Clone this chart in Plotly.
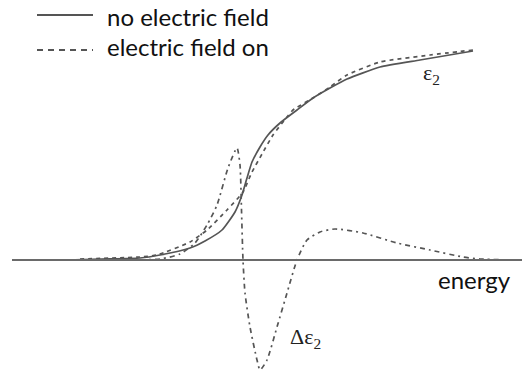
import plotly.graph_objects as go

# Imaginary dielectric function eps2 without / with an applied field,
# and the field-induced change (arbitrary units)
energy_off = [0.67, 1.00, 1.40, 1.60, 1.90, 2.05, 2.22, 2.35, 2.42, 2.47, 2.52,
              2.60, 2.68, 2.80, 2.97, 3.13, 3.30, 3.47, 3.80, 4.20, 4.73]
eps2_off = [0.00, 0.01, 0.02, 0.05, 0.12, 0.19, 0.30, 0.48, 0.65, 0.82, 0.98,
            1.13, 1.25, 1.37, 1.50, 1.62, 1.72, 1.81, 1.93, 2.00, 2.09]

energy_on = [0.80, 1.40, 1.57, 1.90, 2.07, 2.27, 2.43, 2.52, 2.62, 2.73, 2.87,
             2.93, 3.13, 3.30, 3.47, 3.80, 4.30, 4.73]
eps2_on = [0.01, 0.03, 0.05, 0.18, 0.30, 0.50, 0.68, 0.88, 1.06, 1.25, 1.43,
           1.50, 1.62, 1.73, 1.85, 1.98, 2.05, 2.10]

energy_diff = [1.10, 1.60, 1.80, 1.95, 2.07, 2.17, 2.28, 2.37, 2.40, 2.415, 2.43,
               2.45, 2.50, 2.57, 2.60, 2.67, 2.77, 2.87, 2.97, 3.07, 3.20, 3.35,
               3.63, 3.97, 4.30, 4.63, 4.80, 5.13]
delta_eps2 = [0.00, 0.01, 0.06, 0.17, 0.35, 0.55, 0.92, 1.12, 0.95, 0.50, 0.00,
              -0.33, -0.67, -1.00, -1.10, -1.00, -0.67, -0.33, 0.00, 0.20, 0.28, 0.31,
              0.27, 0.17, 0.10, 0.03, 0.01, 0.00]

legend_labels = ["no electric field", "electric field on"]

ink = "#555555"
fig = go.Figure()

fig.add_trace(go.Scatter(x=energy_off, y=eps2_off, mode="lines",
                         line=dict(color=ink, width=1.7, shape="spline", smoothing=0.5)))
fig.add_trace(go.Scatter(x=energy_on, y=eps2_on, mode="lines",
                         line=dict(color=ink, width=1.7, dash="4px,4px",
                                   shape="spline", smoothing=0.5)))
fig.add_trace(go.Scatter(x=energy_diff, y=delta_eps2, mode="lines",
                         line=dict(color=ink, width=1.7, dash="5px,4px,2px,4px",
                                   shape="spline", smoothing=0.6)))

# energy axis
fig.add_shape(type="line", xref="x", yref="y", x0=0.12, x1=5.22, y0=0, y1=0,
              line=dict(color="#6a6a6a", width=2.2))

# legend drawn by hand
fig.add_shape(type="line", xref="paper", yref="paper",
              x0=37/532, x1=93/532, y0=1-15/377, y1=1-15/377,
              line=dict(color=ink, width=1.8))
fig.add_shape(type="line", xref="paper", yref="paper",
              x0=37/532, x1=93/532, y0=1-50/377, y1=1-50/377,
              line=dict(color=ink, width=1.8, dash="6px,5px"))

txt_font = dict(family="Lato", size=24, color="#111111")
for label, ytop in zip(legend_labels, [0, 30]):
    fig.add_annotation(xref="paper", yref="paper", x=105/532, y=1-ytop/377,
                       text=label, showarrow=False, xanchor="left", yanchor="top",
                       font=txt_font)

fig.add_annotation(xref="x", yref="y", x=5.13, y=-0.19, text="energy", showarrow=False,
                   xanchor="right", yanchor="middle", font=txt_font)

sym_font = dict(family="Liberation Serif", size=22, color="#222222")
fig.add_annotation(xref="x", yref="y", x=4.21, y=1.86, text="ε<sub>2</sub>",
                   showarrow=False, xanchor="left", yanchor="middle", font=sym_font)
fig.add_annotation(xref="x", yref="y", x=2.88, y=-0.78, text="Δε<sub>2</sub>",
                   showarrow=False, xanchor="left", yanchor="middle", font=sym_font)

fig.update_layout(
    width=532, height=377,
    margin=dict(l=0, r=0, t=0, b=0),
    paper_bgcolor="white", plot_bgcolor="white",
    showlegend=False,
    xaxis=dict(range=[0, 5.32], visible=False, fixedrange=True),
    yaxis=dict(range=[-1.17, 2.60], visible=False, fixedrange=True),
)

fig.write_html("out.html")
